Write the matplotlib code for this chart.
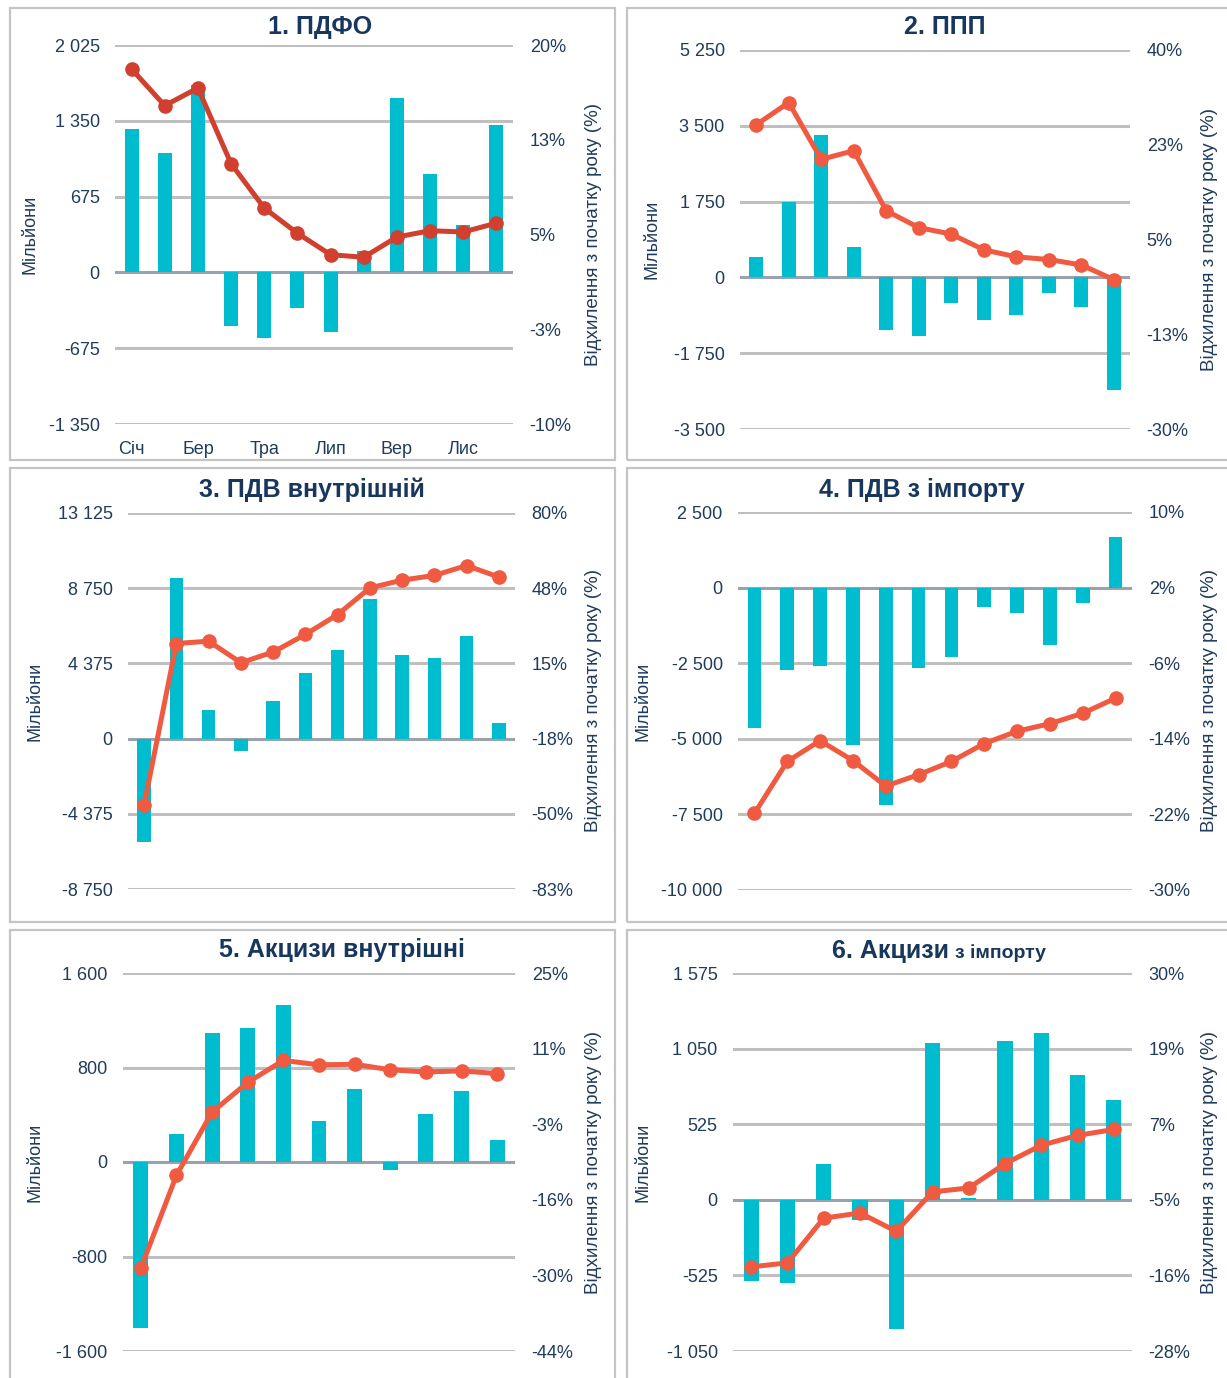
import numpy as np
import matplotlib.pyplot as plt
from matplotlib.patches import Rectangle

plt.rcParams['font.family'] = ['Liberation Sans', 'DejaVu Sans']

W, H = 1227, 1378
fig = plt.figure(figsize=(W / 100, H / 100), dpi=100)

BAR = '#00BCCF'
LINE = '#EF5A40'
LINE1 = '#D13F2E'
TXT = '#1F3B5E'
TITLE = '#17375E'
GRID = '#BFBFBF'
ZERO = '#9AA3AD'

months = ['Січ', 'Лют', 'Бер', 'Кві', 'Тра', 'Чер', 'Лип', 'Сер', 'Вер', 'Жов', 'Лис', 'Гру']

# 1. ПДФО
pdfo_bars = [1273, 1059, 1665, -476, -580, -321, -532, 193, 1549, 880, 422, 1314]
pdfo_line = [18.1, 15.2, 16.6, 10.6, 7.1, 5.1, 3.4, 3.2, 4.8, 5.3, 5.2, 5.9]
pdfo_lticks = [2025, 1350, 675, 0, -675, -1350]
pdfo_llabels = ['2 025', '1 350', '675', '0', '-675', '-1 350']
pdfo_rticks = [20, 12.5, 5, -2.5, -10]
pdfo_rlabels = ['20%', '13%', '5%', '-3%', '-10%']

# 2. ППП
ppp_bars = [464, 1740, 3287, 696, -1222, -1361, -580, -990, -874, -363, -673, -2599]
ppp_line = [26.2, 30.3, 19.8, 21.4, 10.3, 7.2, 6.0, 3.1, 1.8, 1.3, 0.3, -2.4]
ppp_lticks = [5250, 3500, 1750, 0, -1750, -3500]
ppp_llabels = ['5 250', '3 500', '1 750', '0', '-1 750', '-3 500']
ppp_rticks = [40, 22.5, 5, -12.5, -30]
ppp_rlabels = ['40%', '23%', '5%', '-13%', '-30%']

# 3. ПДВ внутрішній
pdv_bars = [-6000, 9340, 1670, -699, 2214, 3806, 5146, 8117, 4874, 4699, 5981, 913]
pdv_line = [-46.1, 23.6, 24.6, 15.3, 19.9, 27.5, 36.1, 47.6, 51.0, 53.0, 57.3, 52.3]
pdv_lticks = [13125, 8750, 4375, 0, -4375, -8750]
pdv_llabels = ['13 125', '8 750', '4 375', '0', '-4 375', '-8 750']
pdv_rticks = [80, 47.5, 15, -17.5, -50, -82.5]
pdv_rlabels = ['80%', '48%', '15%', '-18%', '-50%', '-83%']

# 4. ПДВ з імпорту
pdvi_bars = [-4655, -2740, -2608, -5194, -7185, -2674, -2289, -649, -825, -1904, -517, 1673]
pdvi_line = [-21.9, -16.4, -14.2, -16.3, -19.0, -17.8, -16.4, -14.5, -13.2, -12.4, -11.3, -9.7]
pdvi_lticks = [2500, 0, -2500, -5000, -7500, -10000]
pdvi_llabels = ['2 500', '0', '-2 500', '-5 000', '-7 500', '-10 000']
pdvi_rticks = [10, 2, -6, -14, -22, -30]
pdvi_rlabels = ['10%', '2%', '-6%', '-14%', '-22%', '-30%']

# 5. Акцизи внутрішні
akv_bars = [-1407, 234, 1088, 1131, 1328, 347, 615, -68, 403, 600, 183]
akv_line = [-28.7, -11.8, -0.3, 5.1, 9.1, 8.3, 8.4, 7.4, 7.0, 7.2, 6.7]
akv_lticks = [1600, 800, 0, -800, -1600]
akv_llabels = ['1 600', '800', '0', '-800', '-1 600']
akv_rticks = [25, 11.25, -2.5, -16.25, -30, -43.75]
akv_rlabels = ['25%', '11%', '-3%', '-16%', '-30%', '-44%']

# 6. Акцизи з імпорту
aki_bars = [-567, -578, 250, -139, -897, 1087, 12, 1103, 1156, 870, 691]
aki_line = [-14.7, -14.1, -7.3, -6.5, -9.3, -3.3, -2.7, 1.0, 3.8, 5.3, 6.2]
aki_lticks = [1575, 1050, 525, 0, -525, -1050]
aki_llabels = ['1 575', '1 050', '525', '0', '-525', '-1 050']
aki_rticks = [30, 18.5, 7, -4.5, -16, -27.5]
aki_rlabels = ['30%', '19%', '7%', '-5%', '-16%', '-28%']


def fx(x):
    return x / W


def fy(y):
    return 1 - y / H


# рамки панелей
for (l, t, r, b) in [(10, 8, 615, 460), (627, 8, 1245, 460),
                     (10, 468, 615, 922), (627, 468, 1245, 922),
                     (10, 930, 615, 1395), (627, 930, 1245, 1395)]:
    fig.patches.append(Rectangle((fx(l), fy(b)), fx(r - l), (b - t) / H,
                                 transform=fig.transFigure, fill=False,
                                 ec='#C4C4C4', lw=1.6))


def panel(box, bars, line, lticks, llabels, rticks, rlabels, lcolor,
          ylab_x, rlab_x, xlabels=False):
    l, t, r, b = box
    ax = fig.add_axes([fx(l), fy(b), fx(r - l), (b - t) / H])
    n = len(bars)
    x = np.arange(n)
    ax.set_xlim(-0.5, n - 0.5)
    ax.set_ylim(lticks[-1], lticks[0])
    for v in lticks:
        ax.axhline(v, color=ZERO if v == 0 else GRID, lw=2.2, zorder=0)
    ax.bar(x, bars, width=0.42, color=BAR, zorder=2)
    ax.set_yticks(lticks)
    ax.set_yticklabels(llabels)
    ax.tick_params(axis='y', length=0, labelsize=13, labelcolor=TXT, pad=11)
    if xlabels:
        ax.set_xticks(x[::2])
        ax.set_xticklabels(months[::2])
        ax.tick_params(axis='x', length=0, labelsize=13, labelcolor=TXT, pad=12)
    else:
        ax.set_xticks([])
    for s in ax.spines.values():
        s.set_visible(False)

    ax2 = ax.twinx()
    ax2.set_ylim(rticks[-1], rticks[0])
    ax2.plot(x, line, color=lcolor, lw=3.6, marker='o', ms=9.5, zorder=3,
             solid_capstyle='round')
    ax2.set_yticks(rticks)
    ax2.set_yticklabels(rlabels)
    ax2.tick_params(axis='y', length=0, labelsize=13, labelcolor=TXT, pad=12)
    for s in ax2.spines.values():
        s.set_visible(False)

    yc = (t + b) / 2
    fig.text(fx(ylab_x), fy(yc), 'Мільйони', rotation=90, ha='center',
             va='center', fontsize=13, color=TXT)
    fig.text(fx(rlab_x), fy(yc), 'Відхилення з початку року (%)', rotation=90,
             ha='center', va='center', fontsize=13.5, color=TXT)
    return ax


panel((115, 45, 513, 424), pdfo_bars, pdfo_line, pdfo_lticks, pdfo_llabels,
      pdfo_rticks, pdfo_rlabels, LINE1, 30, 593, xlabels=True)
panel((740, 50, 1130, 429), ppp_bars, ppp_line, ppp_lticks, ppp_llabels,
      ppp_rticks, ppp_rlabels, LINE, 652, 1209)
panel((128, 513, 515, 889), pdv_bars, pdv_line, pdv_lticks, pdv_llabels,
      pdv_rticks, pdv_rlabels, LINE, 35, 594)
panel((738, 512, 1132, 890), pdvi_bars, pdvi_line, pdvi_lticks, pdvi_llabels,
      pdvi_rticks, pdvi_rlabels, LINE, 643, 1210)
panel((123, 973, 515, 1351), akv_bars, akv_line, akv_lticks, akv_llabels,
      akv_rticks, akv_rlabels, LINE, 35, 594)
panel((733, 973, 1132, 1351), aki_bars, aki_line, aki_lticks, aki_llabels,
      aki_rticks, aki_rlabels, LINE, 643, 1210)

# заголовки
for cx, cy, s in [(320, 27, '1. ПДФО'), (945, 27, '2. ППП'),
                  (312, 490, '3. ПДВ внутрішній'), (922, 490, '4. ПДВ з імпорту'),
                  (342, 950, '5. Акцизи внутрішні')]:
    fig.text(fx(cx), fy(cy), s, ha='center', va='center', fontsize=18,
             fontweight='bold', color=TITLE)
fig.text(fx(949), fy(951), '6. Акцизи', ha='right', va='center', fontsize=18,
         fontweight='bold', color=TITLE)
fig.text(fx(955), fy(953), 'з імпорту', ha='left', va='center', fontsize=14,
         fontweight='bold', color=TITLE)

fig.savefig('out.png', dpi=100, facecolor='white')
